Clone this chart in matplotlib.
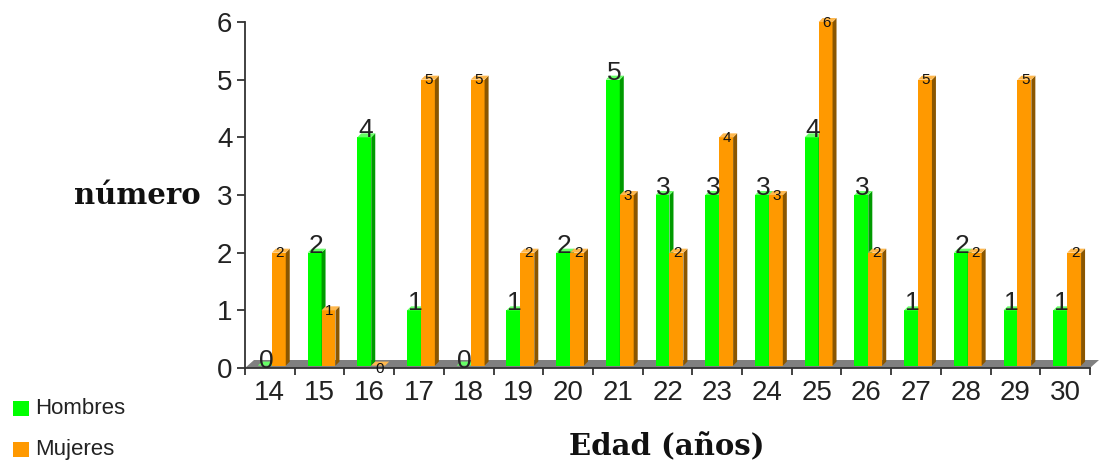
import matplotlib
matplotlib.use("Agg")
import matplotlib.pyplot as plt
from matplotlib.patches import Polygon, Rectangle

edades = [14, 15, 16, 17, 18, 19, 20, 21, 22, 23, 24, 25, 26, 27, 28, 29, 30]
hombres = [0, 2, 4, 1, 0, 1, 2, 5, 3, 3, 3, 4, 3, 1, 2, 1, 1]
mujeres = [2, 1, 0, 5, 5, 2, 2, 3, 2, 4, 3, 6, 2, 5, 2, 5, 2]
yticks = [0, 1, 2, 3, 4, 5, 6]

GREEN = "#00ff00"
GREEN_SIDE = "#009a00"
GREEN_TOP = "#66ff66"
ORANGE = "#ff9900"
ORANGE_SIDE = "#8a5600"
ORANGE_TOP = "#ffb84d"
FLOOR = "#808080"

W, H = 1099, 466
fig = plt.figure(figsize=(W / 100, H / 100), dpi=100)
ax = fig.add_axes([245 / W, (H - 368) / H, 845 / W, 346 / H])
ax.set_xlim(13.5, 30.5)
ax.set_ylim(0, 6)

# pixel -> data scales
px_x = 17 / 845.0
px_y = 6 / 346.0
dx = 4 * px_x
dy = 4 * px_y

# floor
fdx, fdy = 9 * px_x, 8 * px_y
ax.add_patch(Polygon([(13.5, 0), (30.5, 0), (30.5 + fdx, fdy), (13.5 + fdx, fdy)],
                     closed=True, facecolor=FLOOR, edgecolor="none", clip_on=False, zorder=1))

def bar3d(x0, x1, h, front, side, top, z):
    b = fdy * 0.3
    ax.add_patch(Rectangle((x0, b), x1 - x0, max(h - b, 0), facecolor=front, edgecolor="none", zorder=z, clip_on=False))
    hh = max(h, b)
    ax.add_patch(Polygon([(x1, b), (x1 + dx, b + dy), (x1 + dx, hh + dy), (x1, hh)],
                         closed=True, facecolor=side, edgecolor="none", zorder=z, clip_on=False))
    ax.add_patch(Polygon([(x0, hh), (x0 + dx, hh + dy), (x1 + dx, hh + dy), (x1, hh)],
                         closed=True, facecolor=top, edgecolor="none", zorder=z, clip_on=False))

for i, (e, hv, mv) in enumerate(zip(edades, hombres, mujeres)):
    bar3d(e - 0.24, e + 0.04, hv, GREEN, GREEN_SIDE, GREEN_TOP, 2 + i * 0.01)
    bar3d(e + 0.04, e + 0.32, mv, ORANGE, ORANGE_SIDE, ORANGE_TOP, 3 + i * 0.01)

for e, hv, mv in zip(edades, hombres, mujeres):
    ax.text(e - 0.08, hv + 0.12, str(hv), ha="center", va="center", fontsize=19,
            family="Liberation Sans", color="#222222", zorder=10, clip_on=False)
    ax.text(e + 0.2, mv - 0.01, str(mv), ha="center", va="center", fontsize=11,
            family="Liberation Sans", color="#111111", zorder=10, clip_on=False)

for s in ["top", "right"]:
    ax.spines[s].set_visible(False)
ax.spines["left"].set_color("#333333")
ax.spines["bottom"].set_color("#333333")
ax.spines["left"].set_linewidth(1.3)
ax.spines["bottom"].set_linewidth(1.3)

ax.set_yticks(yticks)
ax.set_yticklabels([str(v) for v in yticks], fontsize=20, family="Liberation Sans", color="#222222")
ax.set_xticks(edades)
ax.set_xticklabels([str(v) for v in edades], fontsize=20, family="Liberation Sans", color="#222222")
ax.tick_params(axis="x", length=0, pad=9)
ax.set_xticks([13.5 + k for k in range(18)], minor=True)
ax.tick_params(axis="x", which="minor", length=5, width=1.3, color="#333333", direction="out")
ax.tick_params(axis="y", length=6, width=1.3, color="#333333", direction="out", pad=3)

fig.text(137 / W, 1 - 196 / H, "número", ha="center", va="center", fontsize=21,
         fontweight="bold", family="DejaVu Serif", color="#111111")
fig.text(667 / W, 1 - 447 / H, "Edad (años)", ha="center", va="center", fontsize=21,
         fontweight="bold", family="DejaVu Serif", color="#111111")

# legend
for yy, col, lab in [(408, GREEN, "Hombres"), (449, ORANGE, "Mujeres")]:
    fig.patches.append(Rectangle((13 / W, 1 - (yy + 7.5) / H), 16 / W, 15 / H,
                                 transform=fig.transFigure, facecolor=col, edgecolor="none"))
    fig.text(35 / W, 1 - yy / H, lab, ha="left", va="center", fontsize=16,
             family="Liberation Sans", color="#222222")

fig.savefig("out.png", dpi=100)
